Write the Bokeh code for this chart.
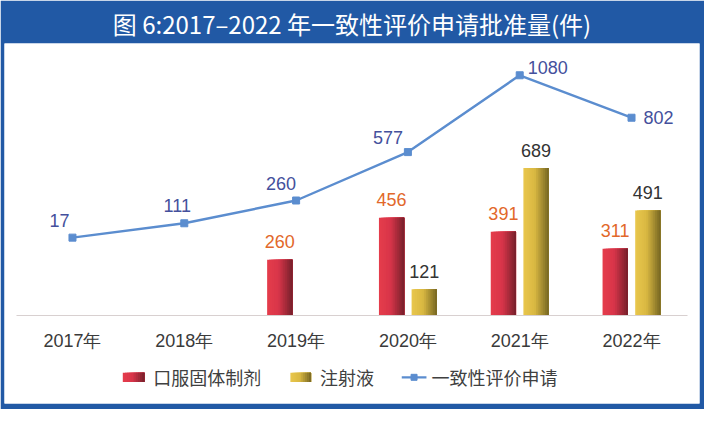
import numpy as np
from bokeh.plotting import figure
from bokeh.models import Range1d, LinearAxis, FixedTicker
from bokeh.core.properties import value
from bokeh.embed import file_html
from bokeh.resources import INLINE

# ---- data ----
years = ["2017年", "2018年", "2019年", "2020年", "2021年", "2022年"]
oral_solid = [0, 0, 260, 456, 391, 311]        # 口服固体制剂
injection = [0, 0, 0, 121, 689, 491]           # 注射液
consistency = [17, 111, 260, 577, 1080, 802]   # 一致性评价申请
series_names = ["口服固体制剂", "注射液", "一致性评价申请"]
title_text = "图 6:2017–2022 年一致性评价申请批准量(件)"

# ---- style ----
BLUE = "#2159a5"
LINE_BLUE = "#5b8dcf"
LAT = "Liberation Sans"
CJK = "Noto Sans CJK SC"
RED_STOPS = [(0.0, "#e53d4b"), (0.45, "#d8354a"), (1.0, "#76202b")]
GOLD_STOPS = [(0.0, "#e9c74d"), (0.45, "#d9b842"), (1.0, "#766622")]
BAR_W = 0.226
BAR_OFF = 0.146
NSTRIP = 14

def hex2rgb(h):
    h = h.lstrip("#")
    return [int(h[i:i + 2], 16) for i in (0, 2, 4)]

def grad(stops, t):
    for (t0, c0), (t1, c1) in zip(stops[:-1], stops[1:]):
        if t0 <= t <= t1:
            f = (t - t0) / (t1 - t0)
            a, b = hex2rgb(c0), hex2rgb(c1)
            return "#%02x%02x%02x" % tuple(int(round(a[k] + (b[k] - a[k]) * f)) for k in range(3))
    return stops[-1][1]

p = figure(width=704, height=409, output_backend="svg", toolbar_location=None,
           x_axis_location=None, y_axis_location=None,
           x_range=Range1d(-0.608, 5.608), y_range=Range1d(-413.6, 1272.7),
           min_border_left=4, min_border_right=5, min_border_bottom=6, min_border_top=39)
p.extra_y_ranges = {"line": Range1d(-1069, 1288)}
p.grid.visible = False
p.outline_line_color = None
p.border_fill_color = BLUE
p.background_fill_color = "white"

p.title.text = title_text
p.title.align = "center"
p.title.text_color = "white"
p.title.text_font = CJK
p.title.text_font_style = "normal"
p.title.text_font_size = "24px"
p.title.standoff = 6

idx = np.arange(len(years))

def gradient_bars(values, offset, stops):
    vals = np.array(values, dtype=float)
    keep = vals > 0
    xs = idx[keep] + offset
    tops = vals[keep]
    sw = BAR_W / NSTRIP
    for k in range(NSTRIP):
        t = (k + 0.5) / NSTRIP
        p.quad(left=xs - BAR_W / 2 + k * sw, right=xs + BAR_W / 2, top=tops, bottom=0,
               fill_color=grad(stops, t), line_color=None)
    return xs, tops

rx, rt = gradient_bars(oral_solid, -BAR_OFF, RED_STOPS)
gx, gt = gradient_bars(injection, BAR_OFF, GOLD_STOPS)

# bar value labels
p.text(x=rx, y=rt, text=[str(int(v)) for v in rt], text_align="center", text_baseline="middle",
       y_offset=-18, text_font=value(LAT), text_font_size="18px", text_color="#e2682a")
p.text(x=gx, y=gt, text=[str(int(v)) for v in gt], text_align="center", text_baseline="middle",
       y_offset=-18, text_font=value(LAT), text_font_size="18px", text_color="#333333")

# line series
p.line(idx, consistency, y_range_name="line", line_color=LINE_BLUE, line_width=2.4)
p.scatter(idx, consistency, y_range_name="line", marker="square", size=7,
          fill_color=LINE_BLUE, line_color=LINE_BLUE)
lab_dx = [-13, -7, -15, -20, 28, 27]
lab_dy = [-17, -18, -17, -15, -8, 0]
p.text(x=idx, y=consistency, y_range_name="line", text=[str(v) for v in consistency],
       x_offset=lab_dx, y_offset=lab_dy, text_align="center", text_baseline="middle",
       text_font=value(LAT), text_font_size="18px", text_color="#44509c")

# category axis
ax = LinearAxis(fixed_location=0, ticker=FixedTicker(ticks=list(idx)),
                major_label_overrides={int(i): y for i, y in zip(idx, years)},
                bounds=(-0.5, 5.5))
ax.axis_line_color = "#d8d0d0"
ax.axis_line_width = 1.2
ax.major_tick_line_color = None
ax.minor_tick_line_color = None
ax.major_label_standoff = 10
ax.major_label_text_font = LAT
ax.major_label_text_font_size = "18px"
ax.major_label_text_color = "#3a3a3a"
p.add_layout(ax, "below")

# legend (manual, to keep gradient swatches)
LEG_Y = -291
SW_H = 22

def swatch(x0, x1, stops):
    n = 10
    w = (x1 - x0) / n
    for k in range(n):
        t = (k + 0.5) / n
        p.quad(left=[x0 + k * w], right=[x1], bottom=[LEG_Y - SW_H],
               top=[LEG_Y + SW_H], fill_color=grad(stops, t), line_color=None)

swatch(0.450, 0.644, RED_STOPS)
swatch(1.949, 2.134, GOLD_STOPS)
p.line([2.945, 3.166], [LEG_Y, LEG_Y], line_color=LINE_BLUE, line_width=2.4)
p.scatter([3.055], [LEG_Y], marker="square", size=6, fill_color=LINE_BLUE, line_color=LINE_BLUE)
p.text(x=[0.723, 2.213, 3.210], y=[LEG_Y] * 3, text=series_names, text_align="left",
       text_baseline="middle", text_font=value(CJK), text_font_size="18px", text_color="#404040")

open("out.html", "w").write(file_html(p, INLINE))
